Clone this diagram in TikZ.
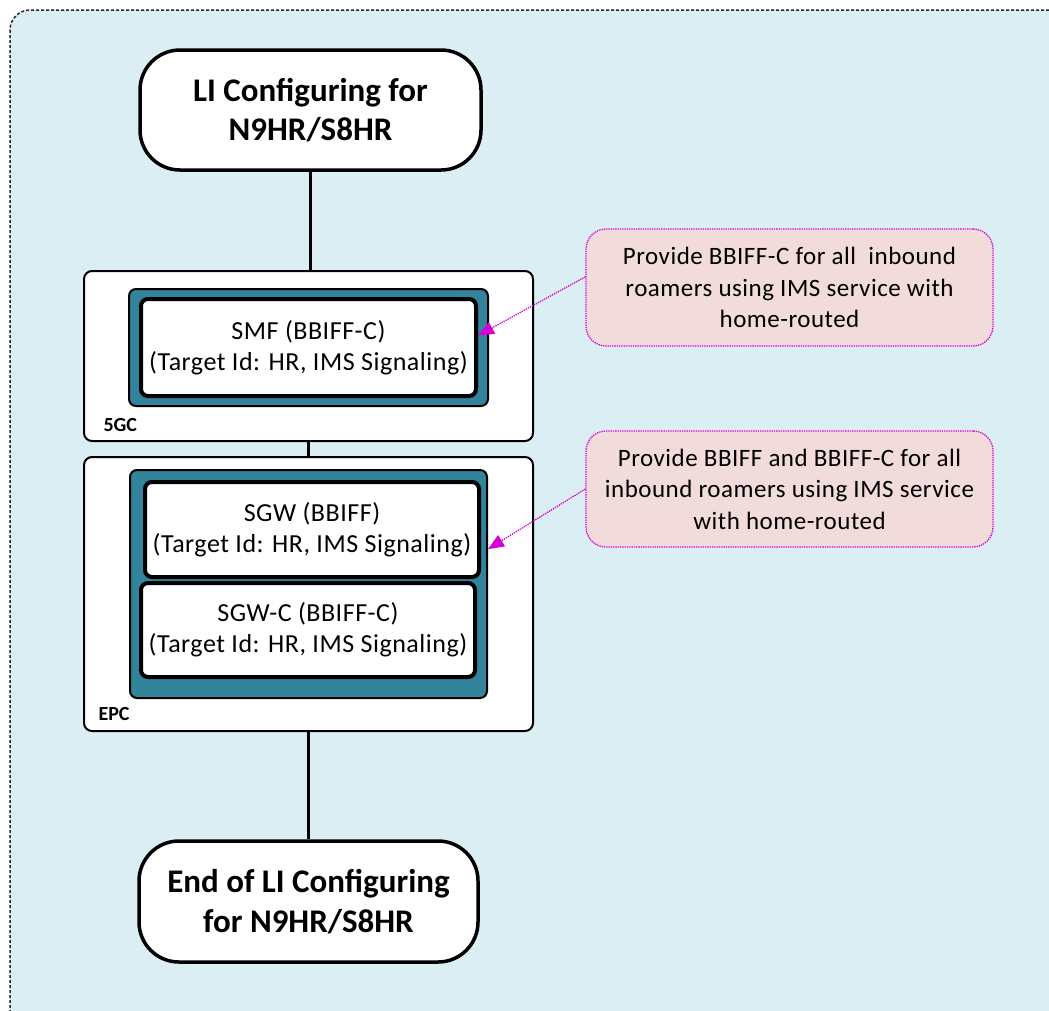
\documentclass[tikz,border=0pt]{standalone}
\usepackage{fontspec}
\setmainfont{Carlito}
\usetikzlibrary{arrows.meta}
\definecolor{bgblue}{RGB}{219,238,243}
\definecolor{boxteal}{RGB}{49,132,155}
\definecolor{notepink}{RGB}{242,220,219}
\definecolor{notemagenta}{RGB}{214,0,214}

\tikzset{
  endpoint/.style={draw=black, line width=3.5pt, fill=white, rounded corners=40pt, align=center, font=\fontsize{33}{39.5}\selectfont\bfseries},
  corebox/.style={draw=black, line width=2pt, fill=white, rounded corners=8pt},
  tealbox/.style={draw=black, line width=2pt, fill=boxteal, rounded corners=7pt},
  nfbox/.style={draw=black, line width=4pt, fill=white, rounded corners=7pt, align=center, font=\fontsize{26}{31}\selectfont\addfontfeature{LetterSpace=2}},
  corelabel/.style={anchor=base west, font=\fontsize{20}{24}\selectfont\bfseries},
  notebox/.style={draw=notemagenta, densely dotted, line width=1.3pt, fill=notepink, rounded corners=20pt, align=center, font=\fontsize{25}{31.5}\selectfont\addfontfeature{LetterSpace=2}},
  notearrow/.style={draw=notemagenta, densely dotted, line width=1.3pt, -{Triangle[length=16pt, width=13pt]}},
  flowline/.style={draw=black, line width=3pt}
}

\begin{document}
\begin{tikzpicture}[x=1pt, y=-1pt]
\useasboundingbox (0,0) rectangle (1049,1010);
\clip (0,0) rectangle (1049,1010);
% background frame
\draw [fill=bgblue, draw=black!85, dash pattern=on 3pt off 2pt, line width=1.5pt, rounded corners=20pt] (10,10) rectangle (1080,1040);

% start / end
\node (start) [endpoint, minimum width=341pt, minimum height=120pt] at (310.5,110) {LI Configuring for\\N9HR/S8HR};
\node (stop) [endpoint, minimum width=339pt, minimum height=121pt] at (308.5,901.5) {End of LI Configuring\\for N9HR/S8HR};

% 5GC
\node (fivegc) [corebox, minimum width=449pt, minimum height=170pt] at (308.5,356) {};
\node (smfgrp) [tealbox, minimum width=359pt, minimum height=117pt] at (308.5,347.5) {};
\node (smf) [nfbox, minimum width=335pt, minimum height=97pt] at (308.5,347.5) {SMF (BBIFF-C)\\(Target Id: HR, IMS Signaling)};
\node (fivegclabel) [corelabel] at (100,431) {5GC};

% EPC
\node (epc) [corebox, minimum width=449pt, minimum height=274pt] at (308.5,594) {};
\node (sgwgrp) [tealbox, minimum width=357pt, minimum height=228pt] at (308.5,584) {};
\node (sgw) [nfbox, minimum width=334pt, minimum height=95pt] at (312,529.5) {SGW (BBIFF)\\(Target Id: HR, IMS Signaling)};
\node (sgwc) [nfbox, minimum width=334pt, minimum height=94pt] at (308,630) {SGW-C (BBIFF-C)\\(Target Id: HR, IMS Signaling)};
\node (epclabel) [corelabel] at (95,720) {EPC};

% notes
\node (noteA) [notebox, minimum width=407pt, minimum height=117pt] at (789.5,287.5) {Provide BBIFF-C for all~ inbound\\roamers using IMS service with\\home-routed};
\node (noteB) [notebox, minimum width=407pt, minimum height=116pt] at (789.5,489) {Provide BBIFF and BBIFF-C for all\\inbound roamers using IMS service\\with home-routed};

% connectors
\draw [flowline] (start.south) -- (start.south |- fivegc.north);
\draw [flowline] (fivegc.south) -- (epc.north);
\draw [flowline] (epc.south) -- (stop.north);
\draw [notearrow] (noteA.177) -- (smf.4);
\draw [notearrow] (noteB.west) -- (sgwgrp.11);
\end{tikzpicture}
\end{document}
